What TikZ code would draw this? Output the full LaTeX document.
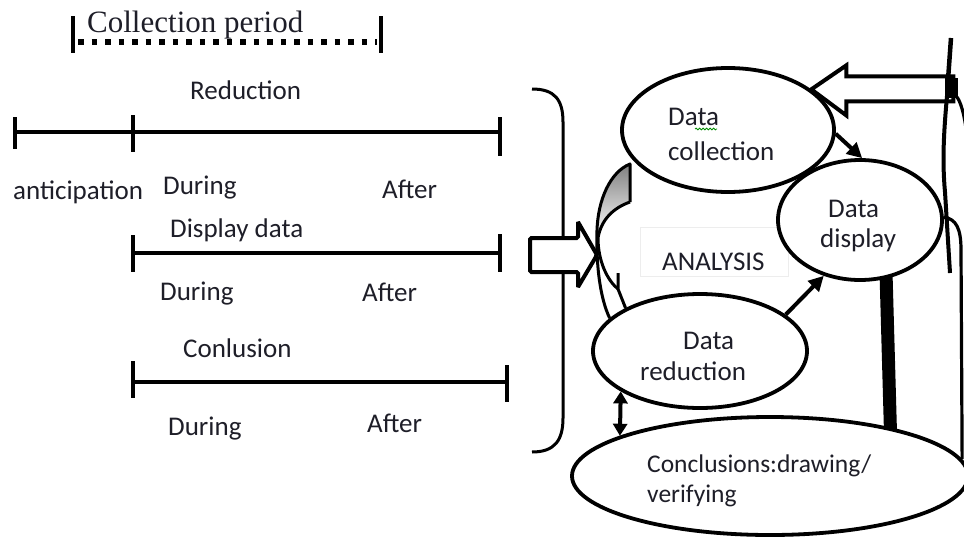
\documentclass[tikz,border=0pt]{standalone}
\usepackage{fontspec}
\setmainfont{Carlito}
\newfontfamily\serifcp{Liberation Serif}
\usetikzlibrary{shapes.geometric,arrows.meta,decorations.pathmorphing,backgrounds}
\definecolor{txt}{HTML}{1E1E28}
\definecolor{shade}{HTML}{C6C6C6}
\begin{document}
\begin{tikzpicture}[x=1pt,y=-1pt,
  lab/.style={font=\fontsize{27}{32}\selectfont, text=txt, inner sep=0pt, anchor=base west},
  smalllab/.style={font=\fontsize{25.5}{30}\selectfont, text=txt, inner sep=0pt, anchor=base west},
  ell/.style={ellipse, draw, line width=3.8pt, fill=white, inner sep=0pt},
  tl/.style={line width=4.2pt},
  tickmark/.style={line width=4.8pt},
  arr/.style={line width=4pt, -{Triangle[length=15pt,width=15pt]}},
  darr/.style={line width=4pt, {Triangle[length=12pt,width=14pt]}-{Triangle[length=12pt,width=14pt]}},
  hollow/.style={draw, line width=4pt, fill=white},
  thin/.style={line width=3pt},
]
\useasboundingbox (0,0) rectangle (964,536);

% ---------- collection period ----------
\node[font=\serifcp\fontsize{31}{36}\selectfont, text=txt, inner sep=0pt, anchor=base west] (cp) at (87,32) {Collection period};
\coordinate (cpa) at (73,42);
\coordinate (cpb) at (381,42);
\draw[tickmark] (73,16) -- (73,53);
\draw[tickmark] (381,16) -- (381,53);
\draw[line width=5.5pt, dash pattern=on 5.5pt off 8pt] ([xshift=5pt]cpa) -- ([xshift=-4pt]cpb);

% ---------- reduction timeline ----------
\coordinate (r0) at (15,132);
\coordinate (r1) at (133,132);
\coordinate (r2) at (500,132);
\draw[tl] (r0) -- (r2);
\draw[tickmark] (15,117) -- (15,149);
\draw[tickmark] (133,115) -- (133,152);
\draw[tickmark] (500,117) -- (500,156);
\node[lab] (tred) at (190,99) {Reduction};
\node[lab] (tant) at (13,199) {anticipation};
\node[lab] (tdur1) at (163,194) {During};
\node[lab] (taft1) at (382,198) {After};

% ---------- display timeline ----------
\coordinate (d0) at (133,253);
\coordinate (d1) at (500,253);
\draw[tl] (d0) -- (d1);
\draw[tickmark] (133,235) -- (133,272);
\draw[tickmark] (500,234) -- (500,272);
\node[lab] (tdisp) at (170,237) {Display data};
\node[lab] (tdur2) at (160,300) {During};
\node[lab] (taft2) at (362,301) {After};

% ---------- conclusion timeline ----------
\coordinate (c0) at (133,382);
\coordinate (c1) at (507,382);
\draw[tl] (c0) -- (c1);
\draw[tickmark] (133,361) -- (133,398);
\draw[tickmark] (507,365) -- (507,402);
\node[lab] (tcon) at (183,357) {Conlusion};
\node[lab] (tdur3) at (168,435) {During};
\node[lab] (taft3) at (367,432) {After};

% ---------- bracket ----------
\draw[thin] (532,89) .. controls (555,89) and (563,100) .. (563,122) -- (563,418)
  .. controls (563,440) and (555,452) .. (532,452);

% ---------- ellipses ----------
\node[ell, minimum width=212pt, minimum height=124pt] (dc) at (728,130) {};
\node[ell, minimum width=164pt, minimum height=120pt] (dd) at (860,220) {};
\node[ell, minimum width=214pt, minimum height=114pt] (dr) at (700,351) {};
\node[ell, minimum width=396pt, minimum height=118pt] (conc) at (770,476) {};

% ---------- left hollow arrow ----------
\coordinate (lt) at (597,255);
\draw[hollow, rounded corners=1.5pt] (lt) -- (578,222) -- (578,238) -- (530,238) -- (530,272)
  -- (578,272) -- (578,287) -- cycle;

\begin{scope}[on background layer]
  % faint box round ANALYSIS
  \node[draw=black!7, line width=0.7pt, minimum width=148pt, minimum height=49pt, inner sep=0pt] (abox) at (714,251.5) {};
  % grey curved arrow
  \fill[shade] (630,164) -- (630,202) .. controls (613,208) and (601,220) .. (598,238)
     -- (597,230) .. controls (598,200) and (610,172) .. (630,164) -- cycle;
  \draw[thin, line join=round] (630,202) -- (630,164) .. controls (610,172) and (598,200) .. (597,230)
     .. controls (596,265) and (600,298) .. (dr.160);
  \draw[thin] (630,202) .. controls (613,208) and (601,220) .. (598,238)
     .. controls (598,262) and (608,281) .. (618,289);
  \draw[thin, line join=miter] (618,273) -- (618,289) -- (dr.150);
  % thick bar from display to conclusions
  \draw[line width=13pt, shorten <=-6pt, shorten >=-6pt] (dd.-66.4) -- (conc.22.7);
  % top hollow arrow into data collection
  \draw[hollow] (dc.26) -- ++(35,-24) -- ++(0,11) -- ++(107,0) -- ++(0,25) -- ++(-107,0) -- ++(0,14) -- cycle;
  % right side strokes
  \draw[line width=4.5pt] (951,38) -- (948,80);
  \fill (945,78) rectangle (958,98);
  \draw[line width=4pt] (947,96) .. controls (944,130) and (942,160) .. (945,192) -- (950,273);
  \draw[line width=3.2pt] (957,97) .. controls (962,104) and (966,122) .. (967,140);
  \draw[line width=3.2pt] (dd.2) .. controls (956,219) and (961,228) .. (961,250) -- (conc.5);
\end{scope}

% ---------- connectors ----------
\draw[arr] (dc.-2) -- (dd.88);
\draw[arr] (dr.23) -- (dd.237);
\draw[darr] (dr.207.2) -- (conc.165);

% ---------- ellipse texts ----------
\node[lab] (tdc1) at (668,125) {Data};
\node[lab] (tdc2) at (668,160) {collection};
\draw[green!55!black, line width=0.8pt, decorate, decoration={snake, amplitude=0.9pt, segment length=3.5pt}] (695,129) -- (717,129);
\node[lab] (tdd1) at (828,217) {Data};
\node[lab] (tdd2) at (820,247) {display};
\node[lab] (tdr1) at (683,349) {Data};
\node[lab] (tdr2) at (640,380) {reduction};
\node[smalllab] (tc1) at (647,472) {Conclusions:drawing/};
\node[smalllab] (tc2) at (647,502) {verifying};
\node[lab] (tan) at (662,270) {ANALYSIS};
\end{tikzpicture}
\end{document}
